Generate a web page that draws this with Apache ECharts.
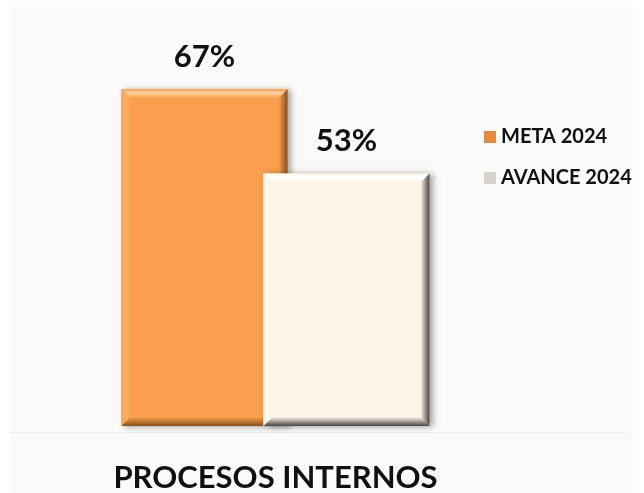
<!DOCTYPE html>
<html>
<head>
<meta charset="utf-8">
<script src="https://cdn.jsdelivr.net/npm/echarts@6/dist/echarts.min.js"></script>
<style>html,body{margin:0;padding:0;background:#fff;}#c{width:644px;height:493px;}</style>
</head>
<body>
<div id="c"></div>
<script>
const categories = ['PROCESOS INTERNOS'];
const seriesNames = ['META 2024', 'AVANCE 2024'];
const metaValues = [67];
const avanceValues = [53];
const yMin = 11, yMax = 80;

const BAR_W = 166, OVERLAP = 24, BEVEL = 9;
const styles = [
  {base: '#FA9F4E', light: '#FDD09A', dark: '#8A4E1A', side: '#FBB066'},
  {base: '#FEF4E6', light: '#FFFFFF', dark: '#4A4540', side: '#FFF8EE'}
];

function makeRender(idx) {
  return function (params, api) {
    const val = api.value(1);
    const topPt = api.coord([api.value(0), val]);
    const basePt = api.coord([api.value(0), yMin]);
    const cx = topPt[0];
    const x0 = idx === 0 ? cx - BAR_W + OVERLAP / 2 : cx - OVERLAP / 2;
    const x1 = x0 + BAR_W;
    const y0 = topPt[1], y1 = basePt[1];
    const b = BEVEL;
    const s = styles[idx];
    return {
      type: 'group',
      children: [
        {type: 'rect', shape: {x: x0, y: y0, width: BAR_W, height: y1 - y0},
         style: {fill: s.base, shadowBlur: 6, shadowOffsetX: 3, shadowOffsetY: 1, shadowColor: 'rgba(0,0,0,0.35)'}},
        {type: 'polygon', shape: {points: [[x0, y0], [x1, y0], [x1 - b, y0 + b], [x0 + b, y0 + b]]},
         style: {fill: new echarts.graphic.LinearGradient(0, 0, 0, 1, [{offset: 0, color: s.base}, {offset: 0.45, color: s.light}, {offset: 1, color: s.base}])}},
        {type: 'polygon', shape: {points: [[x0, y0], [x0 + b, y0 + b], [x0 + b, y1 - b], [x0, y1]]},
         style: {fill: new echarts.graphic.LinearGradient(0, 0, 1, 0, [{offset: 0, color: s.base}, {offset: 0.5, color: s.side}, {offset: 1, color: s.base}])}},
        {type: 'polygon', shape: {points: [[x1, y0], [x1, y1], [x1 - b, y1 - b], [x1 - b, y0 + b]]},
         style: {fill: new echarts.graphic.LinearGradient(0, 0, 1, 0, [{offset: 0, color: s.base}, {offset: 1, color: s.dark}])}},
        {type: 'polygon', shape: {points: [[x0, y1], [x1, y1], [x1 - b, y1 - b], [x0 + b, y1 - b]]},
         style: {fill: new echarts.graphic.LinearGradient(0, 0, 0, 1, [{offset: 0, color: s.base}, {offset: 1, color: s.dark}])}},
        {type: 'text', style: {text: val + '%', x: (x0 + x1) / 2, y: y0 - 17, align: 'center', verticalAlign: 'bottom',
          font: 'bold 31px Lato', fill: '#111'}}
      ]
    };
  };
}

const chart = echarts.init(document.getElementById('c'));
chart.setOption({
  animation: false,
  backgroundColor: '#ffffff',
  graphic: [
    {type: 'rect', z: -10, shape: {x: 11, y: 7, width: 622, height: 486}, style: {fill: '#fafafa'}},
    {type: 'line', z: -5, shape: {x1: 11, y1: 432.5, x2: 626, y2: 432.5}, style: {stroke: '#ececec', lineWidth: 1}}
  ],
  grid: {left: 11, right: 104, top: 11, bottom: 61},
  legend: {
    orient: 'vertical', left: 479, top: 122, itemWidth: 12, itemHeight: 12, itemGap: 21, itemTextGap: 7,
    icon: 'rect',
    textStyle: {fontFamily: 'Lato', fontWeight: 'bold', fontSize: 20, color: '#111', lineHeight: 20},
    data: seriesNames
  },
  xAxis: {
    type: 'category', data: categories,
    axisLine: {show: false}, axisTick: {show: false},
    axisLabel: {fontFamily: 'Lato', fontWeight: 'bold', fontSize: 31, color: '#111', margin: 36}
  },
  yAxis: {type: 'value', min: yMin, max: yMax, show: false, splitLine: {show: false}},
  series: [
    {name: seriesNames[0], type: 'custom', renderItem: makeRender(0), encode: {x: 0, y: 1},
     itemStyle: {color: '#E8883A'}, data: metaValues.map((v, i) => [i, v])},
    {name: seriesNames[1], type: 'custom', renderItem: makeRender(1), encode: {x: 0, y: 1},
     itemStyle: {color: '#D9D2C8'}, data: avanceValues.map((v, i) => [i, v])}
  ]
});
</script>
</body>
</html>
